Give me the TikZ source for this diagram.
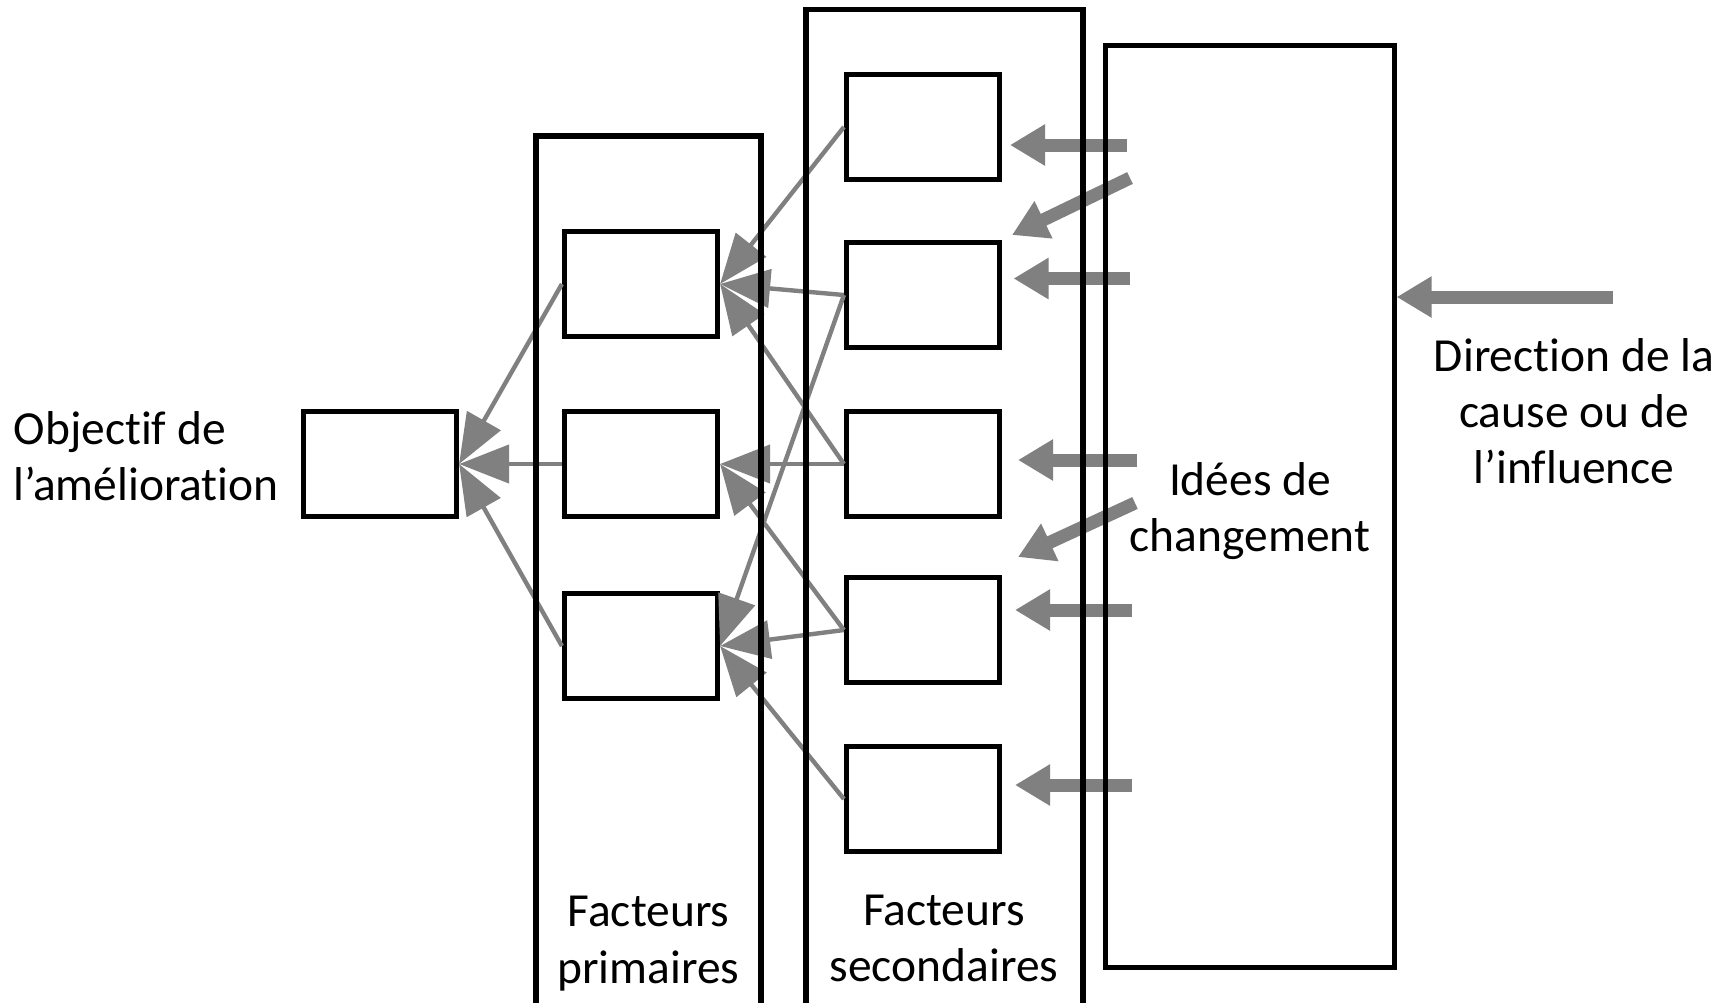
\documentclass[tikz,border=0pt]{standalone}
\usepackage{fontspec}
\setmainfont{Carlito}[Ligatures=NoCommon]
\usetikzlibrary{arrows.meta}
\tikzset{
	boxstyle/.style={rectangle,draw=black,line width=1.45pt,fill=white,minimum width=1.53cm,minimum height=1.05cm,inner sep=0},
	framestyle/.style={draw=black,line width=1.45pt},
	linkstyle/.style={draw=gray,line width=1.25pt,-{Triangle[length=0.5cm,width=0.38cm]}},
	ideastyle/.style={draw=gray,line width=3.7pt,-{Triangle[length=0.35cm,width=0.39cm]}},
	labelstyle/.style={align=center,inner sep=0,font=\fontsize{13.5}{16}\selectfont}
}
\begin{document}
\begin{tikzpicture}[x=0.01cm,y=-0.01cm]
	\clip (0,0) rectangle (1733,1002);
	\node[boxstyle] (goal) at (380,464) {};
	\node[boxstyle] (p1) at (641,284) {};
	\node[boxstyle] (p2) at (641,464) {};
	\node[boxstyle] (p3) at (641,646) {};
	\node[boxstyle] (s1) at (923,127) {};
	\node[boxstyle] (s2) at (923,295) {};
	\node[boxstyle] (s3) at (923,464) {};
	\node[boxstyle] (s4) at (923,630) {};
	\node[boxstyle] (s5) at (923,799) {};
	\draw[linkstyle] (p1.west)--(goal.east);
	\draw[linkstyle] (p2.west)--(goal.east);
	\draw[linkstyle] (p3.west)--(goal.east);
	\draw[linkstyle] (s1.west)--(p1.east);
	\draw[linkstyle] (s2.west)--(p1.east);
	\draw[linkstyle] (s2.west)--(p3.east);
	\draw[linkstyle] (s3.west)--(p1.east);
	\draw[linkstyle] (s3.west)--(p2.east);
	\draw[linkstyle] (s4.west)--(p2.east);
	\draw[linkstyle] (s4.west)--(p3.east);
	\draw[linkstyle] (s5.west)--(p3.east);
	\foreach \xa/\ya/\xb/\yb in {1127/145/1010/145,1130/178/1012/235,1130/278.5/1013.5/278.5,1137/460/1018/460,1135/503/1018/557,1132/610/1015/610,1132/785/1015/785}
		\draw[ideastyle] (\xa,\ya)--(\xb,\yb);
	\draw[framestyle] (536,1012)--(536,136)--(761,136)--(761,1012);
	\draw[framestyle] (806,1012)--(806,9.5)--(1083,9.5)--(1083,1012);
	\node[framestyle,minimum width=2.88cm,minimum height=9.21cm] (ideas) at (1250,506.5) {};
	\node[labelstyle] (ideastext) at (1250,511) {Idées de\\changement};
	\coordinate (dirtail) at (1613,297);
	\draw[ideastyle] (dirtail)--(ideas.east |- dirtail);
	\node[labelstyle,anchor=west,align=left] (goaltext) at (13,456.5) {Objectif de\\l’amélioration};
	\node[labelstyle] (primtext) at (648.5,943.5) {Facteurs\\primaires};
	\node[labelstyle] (sectext) at (944,938.5) {Facteurs\\secondaires};
	\node[labelstyle] (dirtext) at (1574,411) {Direction de la\\cause ou de\\l’influence};
\end{tikzpicture}
\end{document}
